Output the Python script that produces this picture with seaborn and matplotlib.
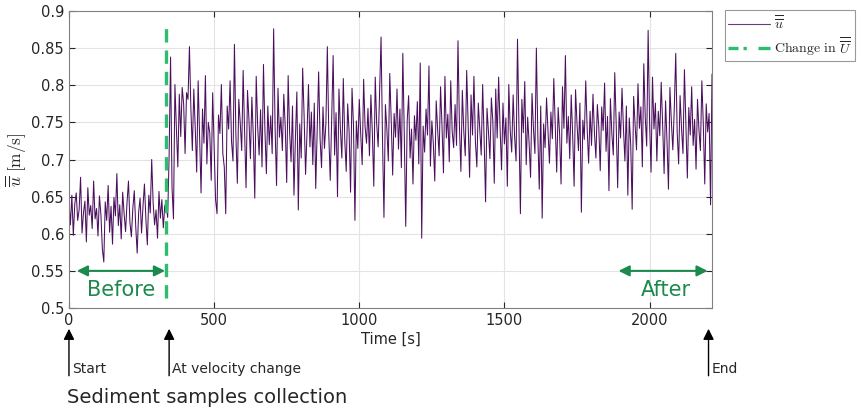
import numpy as np
import pandas as pd
import matplotlib
matplotlib.use("Agg")
import matplotlib.pyplot as plt
from matplotlib.lines import Line2D
import seaborn as sns

# sampling step of the depth-averaged velocity record [s]
DT = 5

# before the velocity change (t = 0 ... 330 s)
u_before = [
    0.645, 0.612, 0.652, 0.598, 0.640, 0.655, 0.618, 0.632, 0.676, 0.601,
    0.628, 0.644, 0.589, 0.662, 0.625, 0.638, 0.607, 0.671, 0.620, 0.634,
    0.597, 0.651, 0.626, 0.580, 0.562, 0.643, 0.618, 0.665, 0.602, 0.637,
    0.586, 0.649, 0.624, 0.681, 0.611, 0.639, 0.593, 0.656, 0.627, 0.603,
    0.642, 0.671, 0.615, 0.596, 0.634, 0.658, 0.610, 0.574, 0.629, 0.648,
    0.601, 0.637, 0.667, 0.619, 0.585, 0.652, 0.628, 0.700, 0.641, 0.612,
    0.632, 0.594, 0.657, 0.621, 0.646, 0.608, 0.638,
]

# after the velocity change (t = 335 ... 2215 s)
u_after = [
    0.640, 0.622, 0.705, 0.838, 0.662, 0.620, 0.801, 0.742, 0.690, 0.788,
    0.731, 0.797, 0.775, 0.708, 0.790, 0.781, 0.852, 0.768, 0.712, 0.795,
    0.742, 0.683, 0.806, 0.731, 0.655, 0.768, 0.722, 0.813, 0.694, 0.750,
    0.736, 0.672, 0.790, 0.718, 0.646, 0.627, 0.760, 0.735, 0.801, 0.708,
    0.690, 0.627, 0.772, 0.741, 0.806, 0.724, 0.698, 0.855, 0.733, 0.668,
    0.781, 0.749, 0.712, 0.820, 0.737, 0.662, 0.793, 0.754, 0.701, 0.784,
    0.731, 0.648, 0.812, 0.745, 0.706, 0.767, 0.690, 0.828, 0.739, 0.681,
    0.772, 0.720, 0.759, 0.708, 0.876, 0.743, 0.665, 0.796, 0.730, 0.757,
    0.712, 0.788, 0.744, 0.669, 0.813, 0.737, 0.697, 0.772, 0.652, 0.729,
    0.791, 0.632, 0.748, 0.702, 0.823, 0.758, 0.680, 0.736, 0.801, 0.717,
    0.764, 0.693, 0.776, 0.661, 0.742, 0.818, 0.728, 0.689, 0.771, 0.715,
    0.748, 0.852, 0.733, 0.672, 0.756, 0.840, 0.706, 0.763, 0.650, 0.795,
    0.741, 0.702, 0.809, 0.726, 0.684, 0.775, 0.737, 0.656, 0.796, 0.747,
    0.618, 0.752, 0.715, 0.781, 0.734, 0.693, 0.808, 0.744, 0.722, 0.769,
    0.705, 0.787, 0.736, 0.664, 0.811, 0.748, 0.717, 0.790, 0.865, 0.727,
    0.622, 0.774, 0.741, 0.698, 0.816, 0.753, 0.679, 0.762, 0.730, 0.795,
    0.714, 0.768, 0.689, 0.843, 0.733, 0.610, 0.752, 0.786, 0.702, 0.741,
    0.667, 0.759, 0.726, 0.778, 0.694, 0.830, 0.594, 0.745, 0.710, 0.768,
    0.733, 0.826, 0.691, 0.752, 0.722, 0.671, 0.779, 0.740, 0.705, 0.798,
    0.744, 0.682, 0.812, 0.729, 0.761, 0.697, 0.806, 0.738, 0.716, 0.774,
    0.719, 0.860, 0.745, 0.684, 0.793, 0.738, 0.705, 0.820, 0.749, 0.676,
    0.787, 0.733, 0.812, 0.724, 0.690, 0.776, 0.741, 0.706, 0.801, 0.728,
    0.643, 0.769, 0.737, 0.701, 0.783, 0.752, 0.668, 0.795, 0.729, 0.811,
    0.743, 0.686, 0.776, 0.721, 0.756, 0.664, 0.801, 0.739, 0.710, 0.787,
    0.731, 0.698, 0.862, 0.744, 0.627, 0.781, 0.736, 0.805, 0.693, 0.757,
    0.722, 0.676, 0.789, 0.741, 0.708, 0.850, 0.732, 0.660, 0.772, 0.621,
    0.748, 0.716, 0.783, 0.739, 0.695, 0.764, 0.728, 0.809, 0.745, 0.683,
    0.770, 0.735, 0.667, 0.798, 0.742, 0.840, 0.722, 0.758, 0.701, 0.787,
    0.733, 0.664, 0.794, 0.748, 0.712, 0.776, 0.629, 0.753, 0.727, 0.806,
    0.741, 0.695, 0.765, 0.719, 0.788, 0.736, 0.702, 0.774, 0.744, 0.685,
    0.771, 0.739, 0.803, 0.711, 0.758, 0.658, 0.782, 0.735, 0.706, 0.817,
    0.747, 0.662, 0.764, 0.729, 0.796, 0.741, 0.698, 0.772, 0.652, 0.756,
    0.720, 0.633, 0.785, 0.747, 0.713, 0.802, 0.742, 0.771, 0.690, 0.829,
    0.757, 0.718, 0.874, 0.749, 0.683, 0.811, 0.741, 0.776, 0.698, 0.765,
    0.732, 0.804, 0.746, 0.681, 0.779, 0.724, 0.660, 0.797, 0.751, 0.713,
    0.768, 0.843, 0.737, 0.694, 0.786, 0.742, 0.708, 0.821, 0.746, 0.675,
    0.770, 0.733, 0.798, 0.719, 0.754, 0.687, 0.781, 0.740, 0.712, 0.806,
    0.748, 0.667, 0.775, 0.737, 0.762, 0.639, 0.815,
]

t_change = 334           # time of the change in U [s]
before_span = (27, 331)  # "Before" sampling window [s]
after_span = (1893, 2200)
markers = [(0, "Start"), (345, "At velocity change"), (2203, "End")]
yticks = [0.5, 0.55, 0.6, 0.65, 0.7, 0.75, 0.8, 0.85, 0.9]
xticks = [0, 500, 1000, 1500, 2000]

u = u_before + u_after
df = pd.DataFrame({"t": np.arange(len(u)) * DT, "u": u})

sns.set_style("ticks")
plt.rcParams["font.family"] = ["DejaVu Sans"]
plt.rcParams["mathtext.fontset"] = "cm"

fig = plt.figure(figsize=(8.62, 4.11), dpi=100)
ax = fig.add_axes([0.080, 0.2506, 0.746, 0.7226])

line_col = "#4b0f5e"
green = "#2dbd6e"
dark_green = "#1b8a4c"

sns.lineplot(data=df, x="t", y="u", ax=ax, color=line_col, linewidth=0.75,
             estimator=None, legend=False)

ax.plot([t_change, t_change], [0.513, 0.885], color=green, linewidth=2.4,
        dashes=(4, 2.4))

ax.set_xlim(0, df["t"].max())
ax.set_ylim(0.5, 0.9)
ax.set_xticks(xticks)
ax.set_yticks(yticks)
ax.set_yticklabels([f"{v:g}" for v in yticks])
ax.grid(True, color="#e3e3e3", linewidth=0.8)
ax.set_axisbelow(True)
ax.tick_params(direction="in", top=True, right=True, length=4,
               labelsize=10.5, colors="#262626", width=0.8)
for s in ax.spines.values():
    s.set_visible(True)
    s.set_color("#808080")
    s.set_linewidth(0.8)

ax.set_xlabel("Time [s]", fontsize=10.5, color="#262626", labelpad=3)
ax.set_ylabel(r"$\overline{\overline{u}}\ [\mathrm{m/s}]$", fontsize=12.5,
              color="#262626", labelpad=2)

# Before / After windows
for (a, b), lbl, xc in [(before_span, "Before", 180), (after_span, "After", 2055)]:
    ax.annotate("", xy=(a, 0.55), xytext=(b, 0.55),
                arrowprops=dict(arrowstyle="<|-|>", color=dark_green, lw=1.5,
                                mutation_scale=16, shrinkA=0, shrinkB=0))
    ax.text(xc, 0.524, lbl, color=dark_green, fontsize=15, ha="center",
            va="center")

# sample collection markers below the axis
trans = ax.get_xaxis_transform()
for xm, lbl in markers:
    ax.annotate("", xy=(xm, -0.07), xycoords=trans, xytext=(xm, -0.228),
                textcoords=trans,
                arrowprops=dict(arrowstyle="-|>", color="black", lw=1.0,
                                mutation_scale=16, shrinkA=0, shrinkB=0),
                annotation_clip=False)
    ax.text(xm + 10, -0.205, lbl, transform=trans, fontsize=10,
            ha="left", va="center", clip_on=False)

fig.text(67 / 862, 1 - 397 / 411, "Sediment samples collection",
         fontsize=14, ha="left", va="center")

handles = [
    Line2D([], [], color="#6a3a80", linewidth=0.8),
    Line2D([], [], color=green, linewidth=2.4, dashes=(3, 1.5, 1, 3.5, 5, 1)),
]
labels = [r"$\overline{\overline{u}}$",
          r"$\mathrm{Change\ in\ }\overline{\overline{U}}$"]
leg = fig.legend(handles, labels, loc="upper left",
                 bbox_to_anchor=(725 / 862, 1 - 10 / 411), fontsize=10,
                 frameon=True, fancybox=False, edgecolor="#808080",
                 borderpad=0.25, handlelength=3.0, handletextpad=0.25,
                 labelspacing=0.2, borderaxespad=0)
leg.get_frame().set_linewidth(0.8)

fig.savefig("out.png", dpi=100)
